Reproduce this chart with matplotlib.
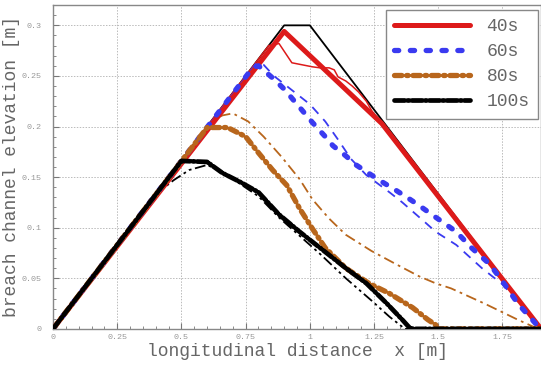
import matplotlib
matplotlib.use("Agg")
import matplotlib.pyplot as plt
from matplotlib.ticker import MultipleLocator

# ---------------- data ----------------
init_x = [0.0, 0.9, 1.0, 1.9]
init_y = [0.0, 0.3, 0.3, 0.0]

# 40 s
red_thick_x = [0.0, 0.9, 1.28, 1.9]
red_thick_y = [0.0, 0.294, 0.203, 0.0]
red_thin_x = [0.0, 0.84, 0.88, 0.93, 0.97, 1.01, 1.04, 1.075, 1.095, 1.11, 1.14, 1.165, 1.19, 1.22, 1.24, 1.27, 1.29, 1.9]
red_thin_y = [0.0, 0.28, 0.282, 0.263, 0.261, 0.259, 0.258, 0.258, 0.256, 0.249, 0.245, 0.240, 0.234, 0.225, 0.216, 0.206, 0.200, 0.0]

# 60 s
blue_thick_x = [0.0, 0.78, 0.80, 0.855, 0.90, 0.94, 0.98, 1.01, 1.06, 1.09, 1.14, 1.18, 1.27, 1.335, 1.39, 1.425, 1.475, 1.57, 1.63, 1.70, 1.75, 1.81, 1.88, 1.9]
blue_thick_y = [0.0, 0.259, 0.260, 0.248, 0.237, 0.225, 0.213, 0.204, 0.190, 0.181, 0.171, 0.162, 0.147, 0.137, 0.128, 0.122, 0.113, 0.096, 0.080, 0.064, 0.047, 0.025, 0.005, 0.0]
blue_thin_x = [0.0, 0.79, 0.82, 0.86, 0.93, 1.0, 1.06, 1.11, 1.16, 1.22, 1.31, 1.36, 1.45, 1.49, 1.57, 1.67, 1.75, 1.82, 1.9]
blue_thin_y = [0.0, 0.262, 0.261, 0.250, 0.236, 0.222, 0.205, 0.187, 0.168, 0.152, 0.135, 0.125, 0.105, 0.096, 0.083, 0.060, 0.044, 0.024, 0.0]

# 80 s
brown_thick_x = [0.0, 0.60, 0.68, 0.75, 0.80, 0.855, 0.91, 0.96, 1.01, 1.06, 1.14, 1.23, 1.31, 1.40, 1.46, 1.49, 1.50, 1.9]
brown_thick_y = [0.0, 0.199, 0.199, 0.190, 0.174, 0.157, 0.142, 0.119, 0.099, 0.080, 0.060, 0.045, 0.035, 0.021, 0.009, 0.004, 0.0, 0.0]
brown_thin_x = [0.0, 0.62, 0.66, 0.70, 0.76, 0.82, 0.89, 0.96, 1.01, 1.075, 1.14, 1.24, 1.335, 1.425, 1.49, 1.55, 1.68, 1.81, 1.88, 1.9]
brown_thin_y = [0.0, 0.206, 0.211, 0.213, 0.205, 0.190, 0.170, 0.148, 0.128, 0.109, 0.093, 0.077, 0.064, 0.052, 0.045, 0.040, 0.025, 0.009, 0.001, 0.0]

# 100 s
black_thick_x = [0.0, 0.50, 0.60, 0.66, 0.73, 0.80, 0.88, 0.96, 1.04, 1.14, 1.22, 1.30, 1.36, 1.385, 1.40, 1.9]
black_thick_y = [0.0, 0.166, 0.165, 0.154, 0.145, 0.135, 0.113, 0.096, 0.080, 0.060, 0.045, 0.025, 0.009, 0.002, 0.0, 0.0]
black_thin_x = [0.0, 0.40, 0.47, 0.53, 0.60, 0.66, 0.73, 0.80, 0.88, 0.96, 1.04, 1.14, 1.24, 1.31, 1.36, 1.37, 1.9]
black_thin_y = [0.0, 0.133, 0.147, 0.157, 0.162, 0.155, 0.143, 0.131, 0.110, 0.092, 0.074, 0.050, 0.028, 0.012, 0.002, 0.0, 0.0]

legend_labels = ["40s", "60s", "80s", "100s"]
xtick_vals = [0, 0.25, 0.5, 0.75, 1, 1.25, 1.5, 1.75]
xtick_labels = ["0", "0.25", "0.5", "0.75", "1", "1.25", "1.5", "1.75"]
ytick_vals = [0, 0.05, 0.1, 0.15, 0.2, 0.25, 0.3]
ytick_labels = ["0", "0.05", "0.1", "0.15", "0.2", "0.25", "0.3"]

# ---------------- style ----------------
RED = "#dd1a1a"
BLUE = "#3a3af0"
BROWN = "#b8661c"
BLACK = "#000000"
MONO = "Liberation Mono"

fig = plt.figure(figsize=(5.41, 3.65), dpi=100)
ax = fig.add_axes([0.098, 0.099, 0.902, 0.887])

ax.plot(init_x, init_y, color=BLACK, lw=1.3, zorder=3)

# thin simulated lines
ax.plot(red_thin_x, red_thin_y, color=RED, lw=1.1, zorder=4)
ax.plot(blue_thin_x, blue_thin_y, color=BLUE, lw=1.3, ls=(0, (5, 4)), zorder=4)
ax.plot(brown_thin_x, brown_thin_y, color=BROWN, lw=1.3, ls=(0, (6, 2.5, 1.5, 2.5)), zorder=4)
ax.plot(black_thin_x, black_thin_y, color=BLACK, lw=1.3, ls=(0, (6, 2, 1.5, 2, 1.5, 2)), zorder=4)

# thick lines
l1, = ax.plot(red_thick_x, red_thick_y, color=RED, lw=3.6, solid_capstyle="round", zorder=5)
l2, = ax.plot(blue_thick_x, blue_thick_y, color=BLUE, lw=3.8, ls=(0, (0.8, 2.2)),
              dash_capstyle="round", zorder=5)
l3, = ax.plot(brown_thick_x, brown_thick_y, color=BROWN, lw=3.8, ls=(0, (1.4, 0.9, 0.3, 0.9)),
              dash_capstyle="round", zorder=5)
l4, = ax.plot(black_thick_x, black_thick_y, color=BLACK, lw=3.4, ls=(0, (2.2, 0.6, 0.3, 0.6)),
              dash_capstyle="round", zorder=5)

ax.set_xlim(0, 1.9)
ax.set_ylim(0, 0.32)

ax.set_xticks(xtick_vals)
ax.set_xticklabels(xtick_labels)
ax.set_yticks(ytick_vals)
ax.set_yticklabels(ytick_labels)
ax.xaxis.set_minor_locator(MultipleLocator(0.05))
ax.yaxis.set_minor_locator(MultipleLocator(0.01))

for lab in ax.get_xticklabels() + ax.get_yticklabels():
    lab.set_fontfamily(MONO)
    lab.set_fontsize(6)
    lab.set_color("#999999")

ax.tick_params(which="both", direction="in", colors="#777777", labelcolor="#999999")
ax.tick_params(which="major", length=4, width=0.8)
ax.tick_params(which="minor", length=2, width=0.6)
ax.tick_params(axis="y", pad=8)
ax.tick_params(axis="x", pad=4)

ax.grid(True, which="major", color="#bbbbbb", ls=(0, (1.5, 1.5)), lw=0.7)
ax.set_axisbelow(True)

for sp in ax.spines.values():
    sp.set_color("#888888")
    sp.set_linewidth(1.0)

ax.set_xlabel("longitudinal distance  x [m]", fontfamily=MONO, fontsize=13, color="#666666")
ax.set_ylabel("breach channel elevation [m]", fontfamily=MONO, fontsize=13, color="#666666")
ax.xaxis.set_label_coords(0.5, -0.045)
ax.yaxis.set_label_coords(-0.067, 0.5)

leg = ax.legend([l1, l2, l3, l4], legend_labels, loc="upper right",
                bbox_to_anchor=(0.993, 0.985), prop={"family": MONO, "size": 13},
                handlelength=4.2, handletextpad=0.9, labelspacing=0.45,
                borderpad=0.45, fancybox=False, framealpha=1.0, edgecolor="#888888",
                borderaxespad=0.0)
for t in leg.get_texts():
    t.set_color("#666666")
leg.get_frame().set_linewidth(1.0)
leg.set_zorder(10)

fig.savefig("out.png", dpi=100)
